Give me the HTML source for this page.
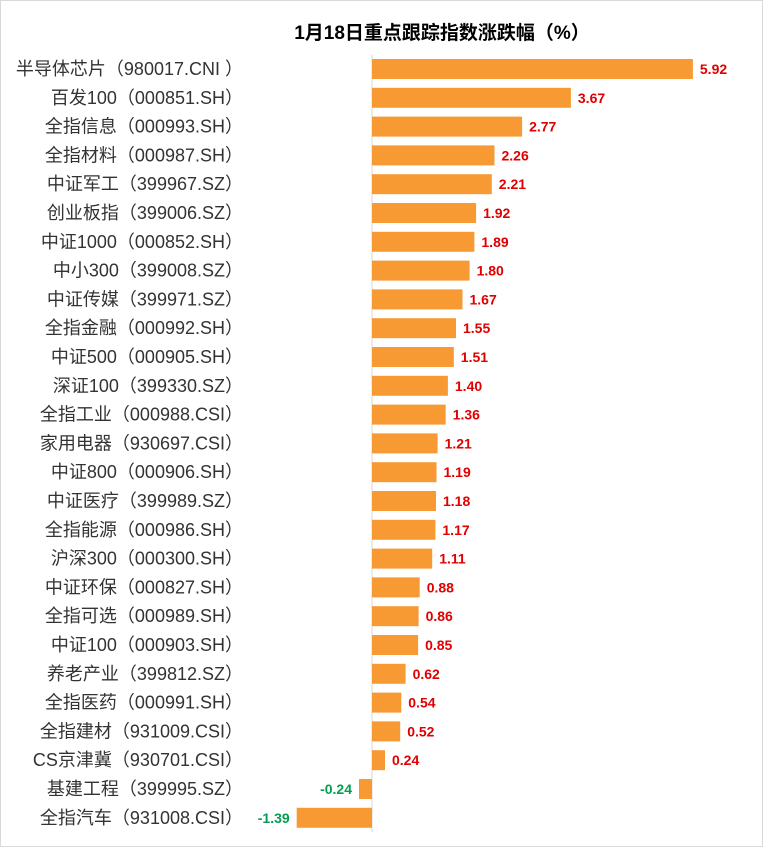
<!DOCTYPE html><html><head><meta charset="utf-8"><style>body{margin:0;background:#fff}svg{display:block}</style></head><body>
<svg width="763" height="847" xmlns="http://www.w3.org/2000/svg" font-family="Liberation Sans,'Noto Sans CJK SC',sans-serif">
<rect x="0.5" y="0.5" width="762" height="846" fill="#fff" stroke="#d9d9d9"/>
<text x="442" y="39" text-anchor="middle" font-size="19" font-weight="bold" fill="#000">1月18日重点跟踪指数涨跌幅（%）</text>
<line x1="372" y1="55" x2="372" y2="832" stroke="#d9d9d9"/>
<g fill="#F79A33">
<rect x="372" y="59" width="320.9" height="20"/>
<rect x="372" y="87.8" width="198.9" height="20"/>
<rect x="372" y="116.6" width="150.1" height="20"/>
<rect x="372" y="145.4" width="122.5" height="20"/>
<rect x="372" y="174.2" width="119.8" height="20"/>
<rect x="372" y="203" width="104.1" height="20"/>
<rect x="372" y="231.8" width="102.4" height="20"/>
<rect x="372" y="260.6" width="97.6" height="20"/>
<rect x="372" y="289.4" width="90.5" height="20"/>
<rect x="372" y="318.2" width="84.0" height="20"/>
<rect x="372" y="347" width="81.8" height="20"/>
<rect x="372" y="375.8" width="75.9" height="20"/>
<rect x="372" y="404.6" width="73.7" height="20"/>
<rect x="372" y="433.4" width="65.6" height="20"/>
<rect x="372" y="462.2" width="64.5" height="20"/>
<rect x="372" y="491" width="64.0" height="20"/>
<rect x="372" y="519.8" width="63.4" height="20"/>
<rect x="372" y="548.6" width="60.2" height="20"/>
<rect x="372" y="577.4" width="47.7" height="20"/>
<rect x="372" y="606.2" width="46.6" height="20"/>
<rect x="372" y="635" width="46.1" height="20"/>
<rect x="372" y="663.8" width="33.6" height="20"/>
<rect x="372" y="692.6" width="29.3" height="20"/>
<rect x="372" y="721.4" width="28.2" height="20"/>
<rect x="372" y="750.2" width="13.0" height="20"/>
<rect x="359" y="779" width="13.0" height="20"/>
<rect x="296.7" y="807.8" width="75.3" height="20"/>
</g>
<g font-size="18" fill="#333" text-anchor="end">
<text x="243" y="75">半导体芯片（980017.CNI ）</text>
<text x="243" y="103.8">百发100（000851.SH）</text>
<text x="243" y="132.6">全指信息（000993.SH）</text>
<text x="243" y="161.4">全指材料（000987.SH）</text>
<text x="243" y="190.2">中证军工（399967.SZ）</text>
<text x="243" y="219">创业板指（399006.SZ）</text>
<text x="243" y="247.8">中证1000（000852.SH）</text>
<text x="243" y="276.6">中小300（399008.SZ）</text>
<text x="243" y="305.4">中证传媒（399971.SZ）</text>
<text x="243" y="334.2">全指金融（000992.SH）</text>
<text x="243" y="363">中证500（000905.SH）</text>
<text x="243" y="391.8">深证100（399330.SZ）</text>
<text x="243" y="420.6">全指工业（000988.CSI）</text>
<text x="243" y="449.4">家用电器（930697.CSI）</text>
<text x="243" y="478.2">中证800（000906.SH）</text>
<text x="243" y="507">中证医疗（399989.SZ）</text>
<text x="243" y="535.8">全指能源（000986.SH）</text>
<text x="243" y="564.6">沪深300（000300.SH）</text>
<text x="243" y="593.4">中证环保（000827.SH）</text>
<text x="243" y="622.2">全指可选（000989.SH）</text>
<text x="243" y="651">中证100（000903.SH）</text>
<text x="243" y="679.8">养老产业（399812.SZ）</text>
<text x="243" y="708.6">全指医药（000991.SH）</text>
<text x="243" y="737.4">全指建材（931009.CSI）</text>
<text x="243" y="766.2">CS京津冀（930701.CSI）</text>
<text x="243" y="795">基建工程（399995.SZ）</text>
<text x="243" y="823.8">全指汽车（931008.CSI）</text>
</g>
<g font-size="14" font-weight="bold" fill="#E00000">
<text x="699.9" y="74">5.92</text>
<text x="577.9" y="102.8">3.67</text>
<text x="529.1" y="131.6">2.77</text>
<text x="501.5" y="160.4">2.26</text>
<text x="498.8" y="189.2">2.21</text>
<text x="483.1" y="218">1.92</text>
<text x="481.4" y="246.8">1.89</text>
<text x="476.6" y="275.6">1.80</text>
<text x="469.5" y="304.4">1.67</text>
<text x="463" y="333.2">1.55</text>
<text x="460.8" y="362">1.51</text>
<text x="454.9" y="390.8">1.40</text>
<text x="452.7" y="419.6">1.36</text>
<text x="444.6" y="448.4">1.21</text>
<text x="443.5" y="477.2">1.19</text>
<text x="443" y="506">1.18</text>
<text x="442.4" y="534.8">1.17</text>
<text x="439.2" y="563.6">1.11</text>
<text x="426.7" y="592.4">0.88</text>
<text x="425.6" y="621.2">0.86</text>
<text x="425.1" y="650">0.85</text>
<text x="412.6" y="678.8">0.62</text>
<text x="408.3" y="707.6">0.54</text>
<text x="407.2" y="736.4">0.52</text>
<text x="392" y="765.2">0.24</text>
</g>
<g font-size="14" font-weight="bold" fill="#00A050" text-anchor="end">
<text x="352" y="794">-0.24</text>
<text x="289.7" y="822.8">-1.39</text>
</g>
</svg></body></html>
